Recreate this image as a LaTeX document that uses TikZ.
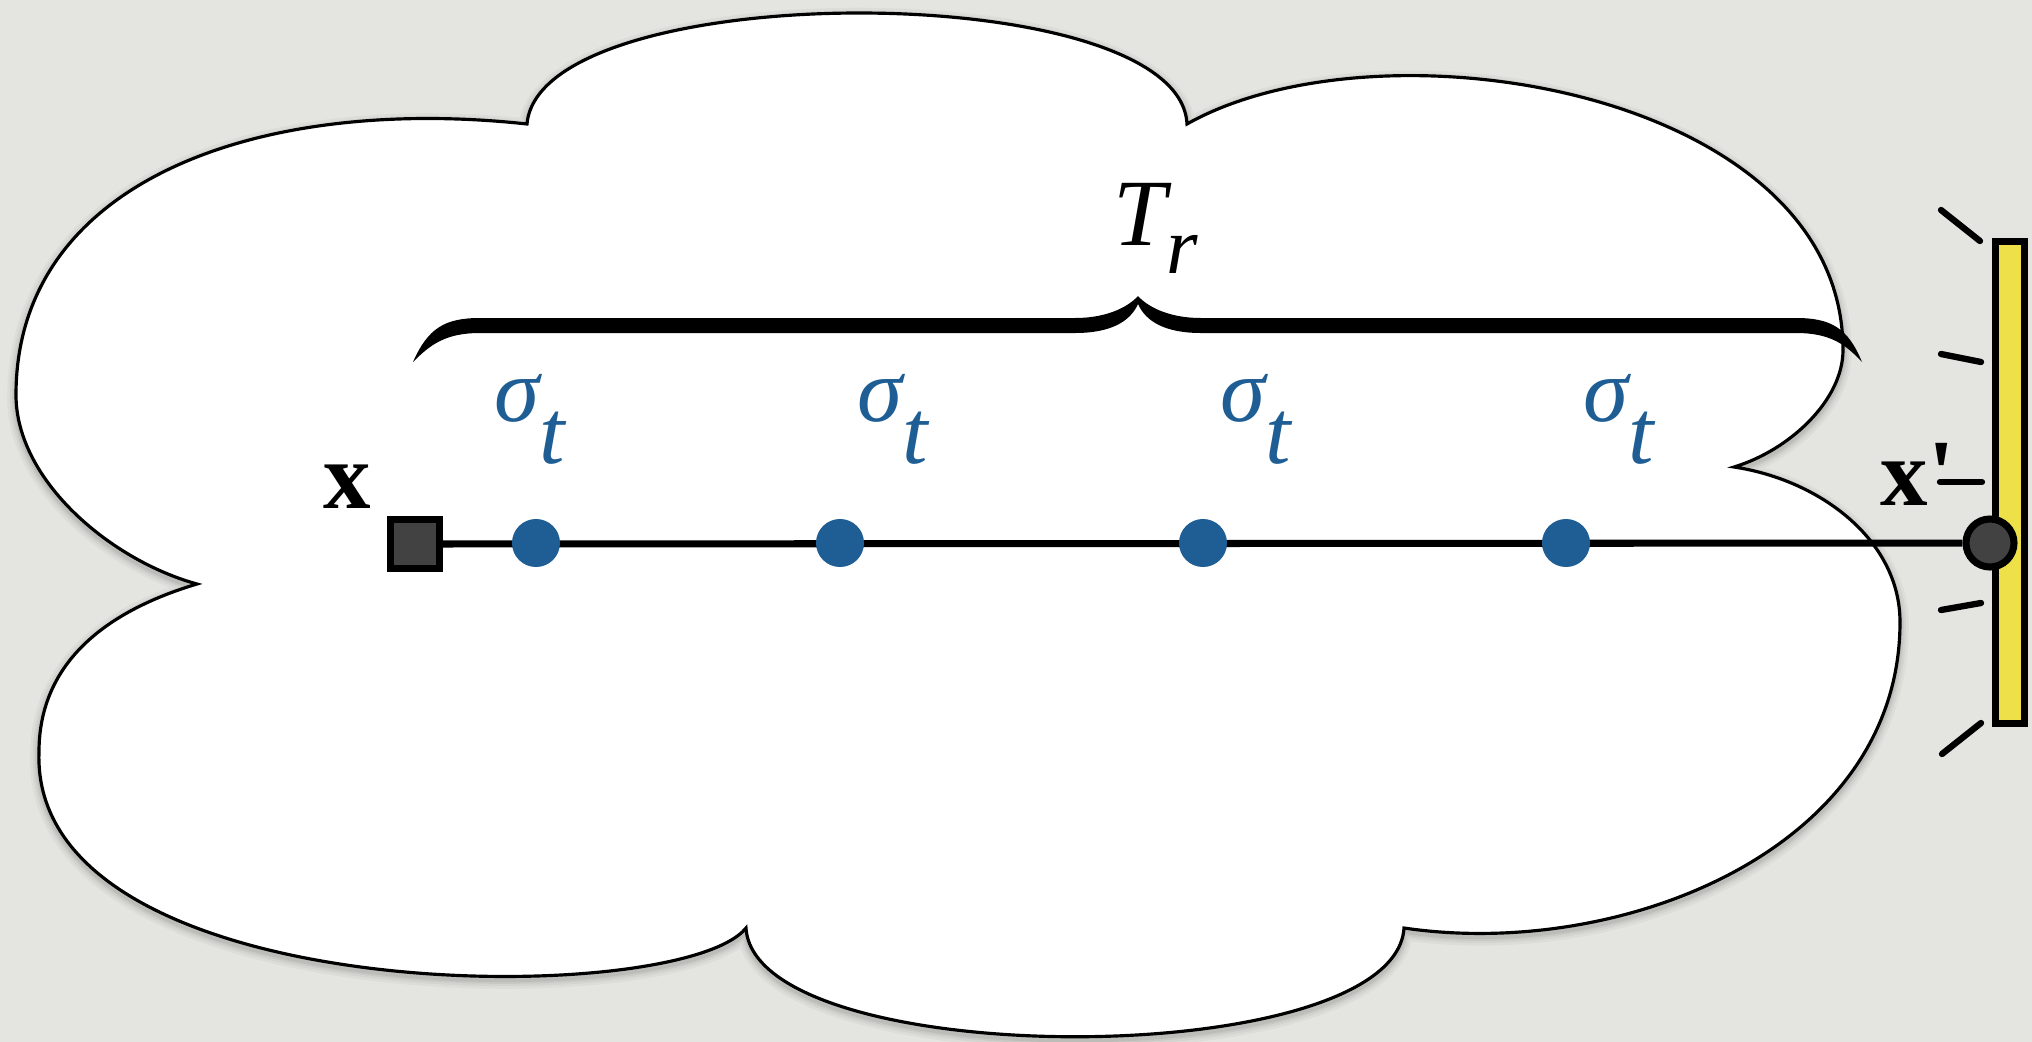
\documentclass[tikz,border=0pt]{standalone}
\usepackage{fontspec}
\setmainfont{Liberation Serif}
\usetikzlibrary{calc}

\definecolor{bgcol}{RGB}{228,228,224}
\definecolor{dotblue}{RGB}{30,94,148}
\definecolor{screenyellow}{RGB}{238,224,72}
\definecolor{darkfill}{RGB}{66,66,66}

% outline of the cloud, in pixel units
\newcommand{\cloudpath}{(197,584) .. controls (110,560) and (16,480) .. (16,395)
    .. controls (16,180) and (260,95) .. (527,124)
    .. controls (540,-24) and (1180,-24) .. (1187,124)
    .. controls (1380,15) and (1843,90) .. (1843,350)
    .. controls (1843,400) and (1790,450) .. (1734,467)
    .. controls (1820,480) and (1900,540) .. (1900,622)
    .. controls (1900,850) and (1620,960) .. (1404,928)
    .. controls (1395,1073) and (755,1073) .. (746,928)
    .. controls (680,1010) and (30,1010) .. (39,752)
    .. controls (39,660) and (110,610) .. (197,584) -- cycle}

\begin{document}
\begin{tikzpicture}[
        x=0.01cm, y=-0.01cm,
        srcbox/.style={draw, line width=2pt, fill=darkfill, rectangle, minimum size=0.49cm, inner sep=0pt},
        dstdot/.style={draw, line width=2pt, fill=darkfill, circle, minimum size=0.48cm, inner sep=0pt},
        sample/.style={fill=dotblue, circle, minimum size=0.48cm, inner sep=0pt},
        screen/.style={draw, line width=2pt, fill=screenyellow, rectangle, minimum width=0.29cm, minimum height=4.82cm, inner sep=0pt},
        wire/.style={line width=2pt},
        ray/.style={line width=1.8pt, line cap=round},
        siglabel/.style={text=dotblue, font=\fontsize{26}{30}\selectfont\itshape, inner sep=0pt, anchor=base west},
        ptlabel/.style={font=\fontsize{27}{30}\selectfont\bfseries, inner sep=0pt, anchor=base west},
    ]

    % Background
    \useasboundingbox (0,0) rectangle (2032,1042);
    \fill[bgcol] (0,0) rectangle (2032,1042);

    % Cloud with soft shadow
    \foreach \w/\o in {5pt/0.03, 3.5pt/0.04, 2.2pt/0.05, 1.2pt/0.06}
        \draw[line width=\w, black, opacity=\o, yshift=-1pt] \cloudpath;
    \draw[line width=0.9pt, fill=white] \cloudpath;

    % Nodes
    \node[screen] (screen) at (2010,482.5) {};
    \node[srcbox] (src) at (415,544) {};
    \node[dstdot] (dst) at (1990,543) {};

    % Edges
    \draw[wire] (src) -- (dst);

    \node[sample] (p1) at (536,543) {};
    \node[sample] (p2) at (840,543) {};
    \node[sample] (p3) at (1203,543) {};
    \node[sample] (p4) at (1566,543) {};

    % Labels
    \node[siglabel] (s1) at (494,421) {σ\raisebox{-12pt}{t}};
    \node[siglabel] (s2) at (857,421) {σ\raisebox{-12pt}{t}};
    \node[siglabel] (s3) at (1220,421) {σ\raisebox{-12pt}{t}};
    \node[siglabel] (s4) at (1583,421) {σ\raisebox{-12pt}{t}};

    \node[ptlabel] (xl) at (323,508) {x};
    \node[ptlabel] (xpl) at (1880,505) {x\textquotesingle};

    % Brace over the samples
    \fill (413,362) .. controls (428,328) and (445,318) .. (480,318) -- (1075,318)
        .. controls (1110,318) and (1130,305) .. (1138,296)
        .. controls (1146,305) and (1166,318) .. (1201,318) -- (1796,318)
        .. controls (1831,318) and (1848,328) .. (1862,362)
        .. controls (1846,345) and (1831,333) .. (1796,333) -- (1201,333)
        .. controls (1166,333) and (1146,322) .. (1138,304)
        .. controls (1130,322) and (1110,333) .. (1075,333) -- (480,333)
        .. controls (445,333) and (430,345) .. (413,362) -- cycle;
    \node[anchor=base west, inner sep=0pt, font=\fontsize{27}{30}\selectfont\itshape] (tr) at (1113,245) {T\raisebox{-8pt}{\fontsize{23}{26}\selectfont r}};

    % Rays from the screen
    \draw[ray] (1941,210) -- (1980,241);
    \draw[ray] (1941,354) -- (1981,362);
    \draw[ray] (1940,482) -- (1982,482);
    \draw[ray] (1941,610) -- (1981,603);
    \draw[ray] (1942,754) -- (1981,723);

\end{tikzpicture}
\end{document}
